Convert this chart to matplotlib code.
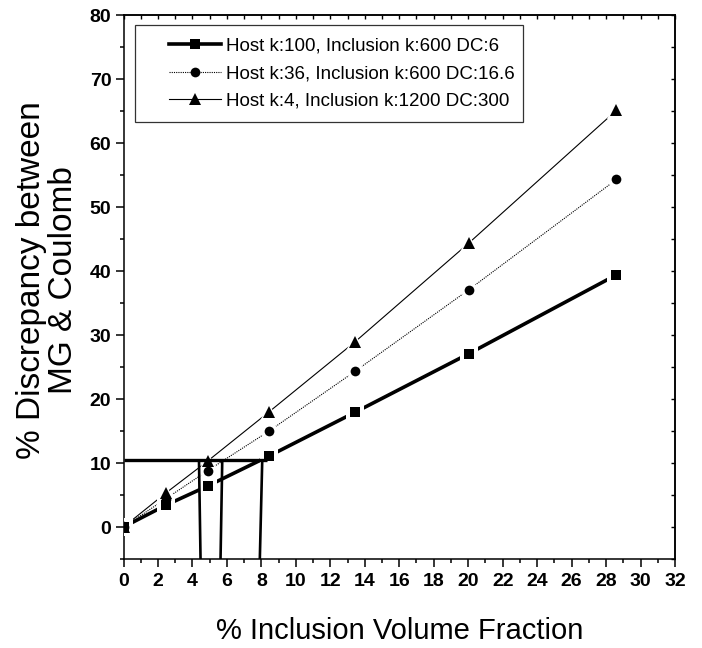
import numpy as np
import matplotlib
matplotlib.use('Agg')
import matplotlib.pyplot as plt
from matplotlib.lines import Line2D
from matplotlib.legend_handler import HandlerLine2D
from matplotlib.ticker import MultipleLocator

# данные
vol_frac = [0.0, 2.45, 4.88, 8.45, 13.42, 20.05, 28.6]
dc6 = [0.0, 3.4, 6.4, 11.1, 17.9, 27.1, 39.4]
dc16 = [0.0, 4.4, 8.8, 15.0, 24.3, 37.1, 54.3]
dc300 = [0.0, 5.3, 10.3, 18.0, 28.9, 44.4, 65.1]

labels = ['Host k:100, Inclusion k:600 DC:6',
          'Host k:36, Inclusion k:600 DC:16.6',
          'Host k:4, Inclusion k:1200 DC:300']

# линии отсечки на уровне 10%
cut_level = 10.4
cut_x_end = 8.3
cut_top_x = [4.38, 5.73, 8.05]
cut_bot_x = [4.47, 5.63, 7.91]

plt.rcParams['font.family'] = ['Liberation Sans', 'DejaVu Sans']

fig = plt.figure(figsize=(7.02, 6.48), dpi=100)
ax = fig.add_axes([123.5 / 702, 1 - 559 / 648, 551.5 / 702, 544 / 648])

series = [
    (dc6, 's', 7.4, dict(lw=2.6, ls='-')),
    (dc16, 'o', 7.0, dict(lw=0.8, ls=(0, (1, 1)))),
    (dc300, '^', 8.6, dict(lw=0.8, ls='-')),
]

# линии
for y, m, ms, st in series:
    ax.plot(vol_frac, y, color='black', zorder=2, **st)
# белые "ореолы" вокруг маркеров (как в Origin)
for y, m, ms, st in series:
    ax.plot(vol_frac, y, ls='none', marker=m, ms=ms + 5, color='white',
            markeredgewidth=0, zorder=3)
for y, m, ms, st in series:
    ax.plot(vol_frac, y, ls='none', marker=m, ms=ms, color='black',
            markeredgewidth=0, zorder=4)

# горизонтальная и вертикальные линии
ax.plot([0, cut_x_end], [cut_level, cut_level], color='black', lw=2.4,
        solid_capstyle='butt', zorder=5)
for xt, xb in zip(cut_top_x, cut_bot_x):
    ax.plot([xt, xb], [cut_level, -5], color='black', lw=1.9,
            solid_capstyle='butt', zorder=5)

ax.set_xlim(0, 32)
ax.set_ylim(-5, 80)
ax.xaxis.set_major_locator(MultipleLocator(2))
ax.xaxis.set_minor_locator(MultipleLocator(1))
ax.yaxis.set_major_locator(MultipleLocator(10))
ax.yaxis.set_minor_locator(MultipleLocator(5))
ax.tick_params(which='both', direction='out', width=1.1, top=False, right=False)
ax.tick_params(which='major', length=5.8)
ax.tick_params(which='minor', length=3)
ax.tick_params(axis='both', labelsize=14)
ax.tick_params(axis='x', pad=4)
ax.tick_params(axis='y', pad=3)
for lab in ax.get_xticklabels() + ax.get_yticklabels():
    lab.set_fontweight('bold')

# внутренние тики сверху и справа
top = ax.secondary_xaxis('top')
top.xaxis.set_major_locator(MultipleLocator(1))
top.tick_params(direction='in', length=3, width=1, labeltop=False)
right = ax.secondary_yaxis('right')
right.yaxis.set_major_locator(MultipleLocator(5))
right.tick_params(direction='in', length=3, width=1, labelright=False)
for sax in (top, right):
    for sp in sax.spines.values():
        sp.set_linewidth(1.1)

for sp in ax.spines.values():
    sp.set_linewidth(1.1)

ax.set_xlabel('% Inclusion Volume Fraction', fontsize=21, labelpad=20)
ax.set_ylabel('% Discrepancy between\nMG & Coulomb', fontsize=24,
              linespacing=1.05)
ax.yaxis.set_label_coords(-0.0807, 0.513)

handles = [
    Line2D([], [], color='black', lw=2.6, marker='s', ms=7.4, mew=0),
    Line2D([], [], color='black', lw=0.8, ls=(0, (1, 1)), marker='o', ms=7.0, mew=0),
    Line2D([], [], color='black', lw=0.8, marker='^', ms=8.6, mew=0),
]
leg_fs = 13.5
leg = ax.legend(handles, labels, loc='upper left',
                bbox_to_anchor=(0.02085, 0.9816 - 0.2, 0.7035, 0.2),
                mode='expand',
                prop={'size': leg_fs},
                frameon=True, fancybox=False, edgecolor='black',
                handlelength=3.89, handletextpad=0.27, labelspacing=0.54,
                borderpad=0.68, borderaxespad=0,
                handler_map={Line2D: HandlerLine2D(xpad=1.12)})
leg.get_frame().set_linewidth(0.9)

fig.savefig('out.png', dpi=100)
